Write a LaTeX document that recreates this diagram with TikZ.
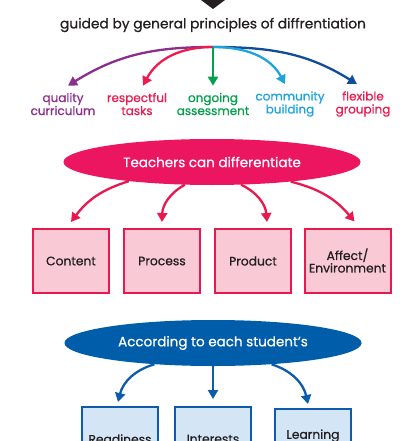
\documentclass[tikz,border=0pt]{standalone}
\usepackage{fontspec}
\setmainfont{Poppins}[FakeBold=0.7]
\usetikzlibrary{arrows.meta,shapes.geometric}

\definecolor{ink}{HTML}{231F20}
\definecolor{purp}{HTML}{8B2F8C}
\definecolor{rose}{HTML}{EC1C4F}
\definecolor{leaf}{HTML}{00A14B}
\definecolor{sky}{HTML}{1FA3DD}
\definecolor{navy}{HTML}{0F4C9C}
\definecolor{teachfill}{HTML}{EC1660}
\definecolor{pinkline}{HTML}{E8194F}
\definecolor{pinkfill}{HTML}{F9CAD5}
\definecolor{stufill}{HTML}{005DAA}
\definecolor{blueline}{HTML}{0C5CAB}
\definecolor{bluefill}{HTML}{D4E5F5}

\begin{document}
\begin{tikzpicture}[x=1pt, y=1pt,
    arr/.style={line width=2.3pt, -{Triangle[length=9pt,width=10pt]}},
    lbl/.style={align=center, inner sep=0pt, font=\fontsize{12}{13}\selectfont},
    oval/.style={ellipse, inner sep=0pt, minimum width=297pt, minimum height=46pt,
      text=white, font=\fontsize{13.5}{15}\selectfont},
    pinkbox/.style={draw=pinkline, fill=pinkfill, line width=2pt, inner sep=0pt,
      minimum width=76pt, minimum height=64pt, align=center, text=ink,
      font=\fontsize{12.3}{12.5}\selectfont},
    bluebox/.style={pinkbox, draw=blueline, fill=bluefill}]
  \clip (0,0) rectangle (411,-441);

  % 上の三角
  \fill[ink] (201,0) -- (225,0) -- (213,-9) -- cycle;

  % 見出し
  \node[text=ink, font=\fontsize{13.8}{15}\selectfont] (title) at (213,-25)
    {guided by general principles of diffrentiation};
  \coordinate (hub) at (213,-47);

  % 原則
  \node[lbl, text=purp] (qual) at (63,-104) {quality\\curriculum};
  \node[lbl, text=rose] (resp) at (137,-104) {respectful\\tasks};
  \node[lbl, text=leaf] (ongo) at (213,-104) {ongoing\\assessment};
  \node[lbl, text=sky]  (comm) at (290,-104) {community\\building};
  \node[lbl, text=rose] (flex) at (363,-104) {flexible\\grouping};

  % 線を引く
  \draw[arr, purp] (hub) to[out=180, in=32] ([shift={(5,7)}]qual.north);
  \draw[arr, navy] (hub) to[out=0, in=148] ([shift={(-6,7)}]flex.north);
  \draw[arr, rose] (hub) to[out=180, in=62] ([shift={(6,7)}]resp.north);
  \draw[arr, sky]  (hub) to[out=0, in=118] ([shift={(-5,7)}]comm.north);
  \draw[arr, leaf] (hub) -- ([yshift=7]ongo.north);

  % 先生
  \node[oval, fill=teachfill] (teach) at (212,-162) {Teachers can differentiate};

  \node[pinkbox] (cont) at (71,-261) {Content};
  \node[pinkbox] (proc) at (162,-261) {Process};
  \node[pinkbox] (prod) at (253,-261) {Product};
  \node[pinkbox, minimum width=86pt] (affe) at (347.5,-260.5) {Affect/\\Environment};

  \draw[arr, pinkline] (teach.193) to[bend right=18] ([yshift=6]cont.north);
  \draw[arr, pinkline] (teach.220) to[bend right=30] ([yshift=6]proc.north);
  \draw[arr, pinkline] (teach.322) to[bend left=30] ([shift={(14,6)}]prod.north);
  \draw[arr, pinkline] (teach.346) to[bend left=18] ([shift={(7,6)}]affe.north);

  % 生徒
  \node[oval, fill=stufill] (stud) at (213,-343) {According to each student's};

  \node[bluebox] (read) at (120,-439) {Readiness};
  \node[bluebox] (intr) at (213,-439) {Interests};
  \node[bluebox] (lear) at (313,-441) {Learning\\Profile};

  \draw[arr, blueline] (stud.200) to[bend right=30] ([shift={(-2,4)}]read.north);
  \draw[arr, blueline] (stud.south) -- ([yshift=7]intr.north);
  \draw[arr, blueline] (stud.340) to[bend left=30] ([shift={(-5,4)}]lear.north);

\end{tikzpicture}
\end{document}
